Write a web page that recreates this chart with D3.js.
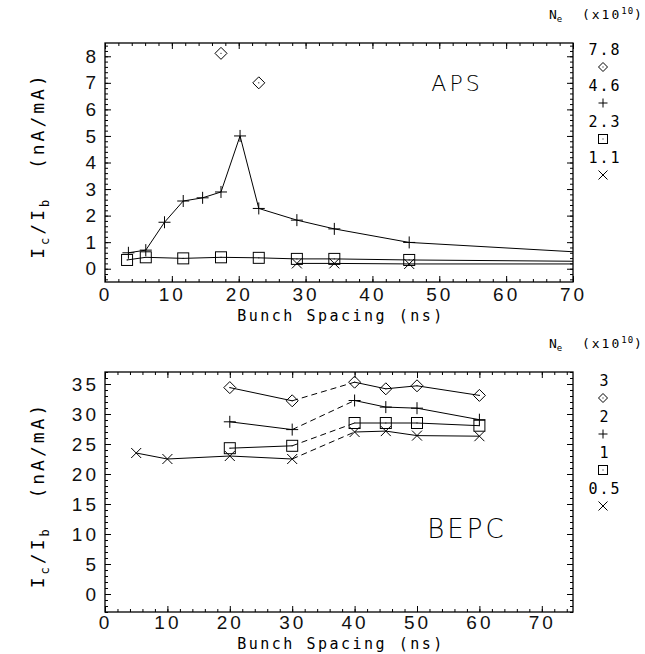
<!DOCTYPE html>
<html lang="en">
<head>
<meta charset="UTF-8">
<title>APS / BEPC</title>
<style>
body { margin: 0; background: #fff; }
svg { display: block; font-family: "DejaVu Sans Mono", monospace; }
</style>
</head>
<body>
<div id="wrapper"></div>
<script src="https://cdnjs.cloudflare.com/ajax/libs/d3/7.8.5/d3.min.js"></script>
<script>

// ---- APS data (bunch spacing ns, Ic/Ib nA/mA) ----
const apsDiamondX = [17.35, 23.0]
const apsDiamondY = [8.11, 7.0]
const apsPlusX = [3.5, 6.1, 8.9, 11.7, 14.6, 17.35, 20.2, 23.0, 28.7, 34.3, 45.5, 90.9]
const apsPlusY = [0.60, 0.70, 1.75, 2.55, 2.67, 2.89, 5.0, 2.27, 1.83, 1.5, 0.99, 0.34]
const apsSquareX = [3.3, 6.1, 11.7, 17.35, 23.0, 28.7, 34.3, 45.5, 90.9]
const apsSquareY = [0.33, 0.43, 0.39, 0.43, 0.41, 0.37, 0.37, 0.33, 0.24]
const apsCrossX = [28.7, 34.3, 45.5, 90.9]
const apsCrossY = [0.2, 0.2, 0.18, 0.18]
const apsLegend = ["7.8", "4.6", "2.3", "1.1"]

// ---- BEPC data ----
const bepcCrossX = [5, 10, 20, 30, 40, 45, 50, 60]
const bepcCrossY = [23.5, 22.5, 23.0, 22.5, 27.0, 27.15, 26.4, 26.3]
const bepcX = [20, 30, 40, 45, 50, 60]
const bepcSquareY = [24.3, 24.7, 28.5, 28.5, 28.5, 28.05]
const bepcPlusY = [28.7, 27.4, 32.25, 31.15, 30.97, 29.05]
const bepcDiamondY = [34.4, 32.2, 35.3, 34.2, 34.7, 33.1]
const bepcLegend = ["3", "2", "1", "0.5"]

const symbols = ["diamond", "plus", "square", "cross"]

const svg = d3.select("#wrapper")
  .append("svg")
  .attr("width", 645)
  .attr("height", 654)

svg.append("rect").attr("width", 645).attr("height", 654).attr("fill", "#fff")

function drawMarker(g, type, cx, cy, s) {
  if (type == "diamond") {
    g.append("path")
      .attr("d", `M${cx},${cy - s}L${cx + s},${cy}L${cx},${cy + s}L${cx - s},${cy}Z`)
      .attr("fill", "none").attr("stroke", "#000")
    g.append("rect").attr("x", cx - 0.5).attr("y", cy - 0.5).attr("width", 1).attr("height", 1).attr("fill", "#000")
  } else if (type == "square") {
    g.append("rect").attr("x", cx - s).attr("y", cy - s).attr("width", 2 * s).attr("height", 2 * s)
      .attr("fill", "none").attr("stroke", "#000")
    g.append("rect").attr("x", cx - 0.5).attr("y", cy - 0.5).attr("width", 1).attr("height", 1).attr("fill", "#000")
  } else if (type == "plus") {
    g.append("path").attr("d", `M${cx - s},${cy}H${cx + s}M${cx},${cy - s}V${cy + s}`)
      .attr("stroke", "#000").attr("fill", "none")
  } else {
    g.append("path").attr("d", `M${cx - s},${cy - s}L${cx + s},${cy + s}M${cx - s},${cy + s}L${cx + s},${cy - s}`)
      .attr("stroke", "#000").attr("fill", "none")
  }
}

function drawPanel(p) {
  const w = p.right - p.left
  const h = p.bottom - p.top
  const bounds = svg.append("g").attr("transform", `translate(${p.left},${p.top})`)

  const xScale = d3.scaleLinear().domain(p.xDomain).range([0, w])
  const yScale = d3.scaleLinear().domain(p.yDomain).range([h, 0])

  // axes: major + minor, ticks pointing inward on all four sides
  const xMax = p.xDomain[1]
  const xMajor = d3.range(0, xMax + 0.01, 10)
  const xMinor = d3.range(0, xMax + 0.01, 2)

  const xAxis = bounds.append("g").attr("transform", `translate(0,${h})`)
    .call(d3.axisBottom(xScale).tickValues(xMajor).tickSizeInner(-6).tickSizeOuter(0).tickPadding(p.xPad))
  xAxis.selectAll("text").style("font-size", "19px").style("letter-spacing", "3px")
    .attr("fill", "#111")
  bounds.append("g").attr("transform", `translate(0,${h})`)
    .call(d3.axisBottom(xScale).tickValues(xMinor).tickSize(-3).tickFormat(""))
  bounds.append("g").call(d3.axisTop(xScale).tickValues(xMajor).tickSize(-6).tickFormat(""))
  bounds.append("g").call(d3.axisTop(xScale).tickValues(xMinor).tickSize(-3).tickFormat(""))

  const yAxis = bounds.append("g")
    .call(d3.axisLeft(yScale).tickValues(p.yMajor).tickSizeInner(-6).tickSizeOuter(0).tickPadding(6))
  yAxis.selectAll("text").style("font-size", "19px").style("letter-spacing", "3px")
    .attr("fill", "#111")
  bounds.append("g").call(d3.axisLeft(yScale).tickValues(p.yMinor).tickSize(-3).tickFormat(""))
  bounds.append("g").attr("transform", `translate(${w},0)`)
    .call(d3.axisRight(yScale).tickValues(p.yMajor).tickSize(-6).tickFormat(""))
  bounds.append("g").attr("transform", `translate(${w},0)`)
    .call(d3.axisRight(yScale).tickValues(p.yMinor).tickSize(-3).tickFormat(""))

  bounds.selectAll(".domain").remove()
  bounds.selectAll(".tick line").attr("stroke", "#000")

  bounds.append("rect").attr("width", w).attr("height", h)
    .attr("fill", "none").attr("stroke", "#000").attr("stroke-width", 1.3)

  // data
  const clipId = "clip" + p.name
  bounds.append("clipPath").attr("id", clipId)
    .append("rect").attr("width", w).attr("height", h)
  const plot = bounds.append("g").attr("clip-path", `url(#${clipId})`)

  p.series.forEach(s => {
    if (s.line) {
      for (let i = 0; i < s.x.length - 1; i++) {
        const dashed = p.dashFrom != null && s.x[i] == p.dashFrom && s.x[i + 1] == p.dashTo
        plot.append("line")
          .attr("x1", xScale(s.x[i])).attr("y1", yScale(s.y[i]))
          .attr("x2", xScale(s.x[i + 1])).attr("y2", yScale(s.y[i + 1]))
          .attr("stroke", "#000").attr("stroke-width", 1)
          .attr("stroke-dasharray", dashed ? "6,4" : null)
      }
    }
    s.x.forEach((x, i) => drawMarker(plot, s.sym, xScale(x), yScale(s.y[i]), s.size))
  })

  // x title
  svg.append("text")
    .attr("x", p.left + w / 2 + 2).attr("y", p.bottom + p.xTitleOffset)
    .attr("text-anchor", "middle")
    .style("font-size", "15px").style("letter-spacing", "2.5px")
    .text("Bunch Spacing (ns)")

  // y title
  const yt = svg.append("text")
    .attr("transform", `translate(44,${p.top + h / 2 + 3}) rotate(-90)`)
    .attr("text-anchor", "middle")
    .style("font-size", "18px").style("letter-spacing", "3px")
  yt.append("tspan").text("I")
  yt.append("tspan").attr("dy", 5).style("font-size", "12px").text("c")
  yt.append("tspan").attr("dy", -5).text("/I")
  yt.append("tspan").attr("dy", 5).style("font-size", "12px").text("b")
  yt.append("tspan").attr("dy", -5).text("\u00a0\u00a0(nA/mA)")

  // label inside
  svg.append("text")
    .attr("x", p.labelX).attr("y", p.labelY)
    .attr("text-anchor", "middle")
    .style("font-family", "'DejaVu Sans', sans-serif").style("font-weight", 200)
    .style("font-size", p.labelSize + "px").style("letter-spacing", "3px")
    .text(p.name)

  // legend header N_e (x10^10)
  const hd = svg.append("text").attr("x", 549).attr("y", p.headY)
    .style("font-size", "13px")
  hd.append("tspan").text("N")
  hd.append("tspan").attr("dy", 3).style("font-size", "9px").text("e")
  hd.append("tspan").attr("dy", -3).style("letter-spacing", "2px").text("\u00a0\u00a0(x10")
  hd.append("tspan").attr("dy", -5).style("font-size", "9px").style("letter-spacing", "1px").text("10")
  hd.append("tspan").attr("dy", 5).text(")")

  // legend column
  p.legend.forEach((lab, i) => {
    svg.append("text")
      .attr("x", 605).attr("y", p.legTop + i * p.legStep + 5)
      .attr("text-anchor", "middle")
      .style("font-size", "15px").style("letter-spacing", "2px")
      .text(lab)
    drawMarker(svg, symbols[i], 603, p.legTop + i * p.legStep + p.legStep / 2 - 1, 4.5)
  })
}

drawPanel({
  name: "APS",
  left: 105, right: 573, top: 43, bottom: 282,
  xDomain: [0, 70], yDomain: [-0.5, 8.5],
  yMajor: d3.range(0, 8.01, 1),
  yMinor: d3.range(-0.4, 8.45, 0.2),
  xPad: 6, xTitleOffset: 39,
  labelX: 457, labelY: 91, labelSize: 22,
  headY: 19, legTop: 50, legStep: 36, legend: apsLegend,
  series: [
    { x: apsDiamondX, y: apsDiamondY, sym: "diamond", size: 6, line: false },
    { x: apsPlusX, y: apsPlusY, sym: "plus", size: 6, line: true },
    { x: apsSquareX, y: apsSquareY, sym: "square", size: 5.5, line: true },
    { x: apsCrossX, y: apsCrossY, sym: "cross", size: 5, line: true }
  ]
})

drawPanel({
  name: "BEPC",
  left: 105, right: 573, top: 372, bottom: 612,
  xDomain: [0, 75], yDomain: [-3, 37],
  yMajor: d3.range(0, 35.01, 5),
  yMinor: d3.range(-3, 37.01, 1),
  xPad: 3, xTitleOffset: 37,
  dashFrom: 30, dashTo: 40,
  labelX: 467, labelY: 538, labelSize: 26,
  headY: 348, legTop: 381, legStep: 36, legend: bepcLegend,
  series: [
    { x: bepcX, y: bepcDiamondY, sym: "diamond", size: 6, line: true },
    { x: bepcX, y: bepcPlusY, sym: "plus", size: 6, line: true },
    { x: bepcX, y: bepcSquareY, sym: "square", size: 5.5, line: true },
    { x: bepcCrossX, y: bepcCrossY, sym: "cross", size: 5, line: true }
  ]
})

</script>
</body>
</html>
